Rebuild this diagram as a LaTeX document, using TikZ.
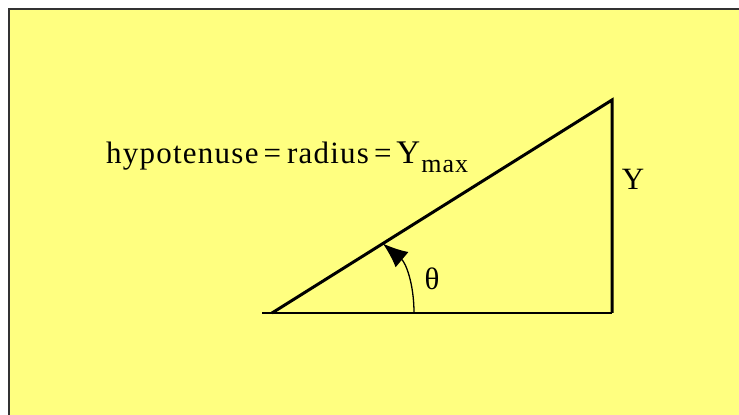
\documentclass[tikz,border=0pt]{standalone}
\usepackage{fontspec}
\setmainfont{Liberation Serif}
\usetikzlibrary{arrows.meta, calc}
\definecolor{paper}{HTML}{FFFF80}
\definecolor{rim}{HTML}{333333}

\begin{document}
\begin{tikzpicture}[x=1pt, y=1pt,
      lbl/.style={font=\fontsize{31}{31}\selectfont, inner sep=0pt},
      side/.style={line width=3pt, line join=miter}]
  \useasboundingbox (0,0) rectangle (739,415);
  \fill[paper] (9,0) rectangle (739,406);
  \draw[rim, line width=2.5pt] (9,0) -- (9,406) -- (739,406);
  % triangle corners
  \coordinate (A) at (272,102);
  \coordinate (B) at (612,102);
  \coordinate (C) at (612,315);
  \draw[side] (A) -- (C) -- (B);
  \draw[line width=2pt] ($(A)+(-10,0)$) -- (B);
  % angle arrow
  \coordinate (S) at (414,102);
  \coordinate (T) at ($(A)!0.326!(C)$);
  \draw[line width=1.3pt, -{Latex[length=25pt, width=20pt]}] (S) to[out=90, in=-40] (T);
  \node[lbl, anchor=base] (theta) at (432,125) {θ};
  \node[lbl, anchor=base] (y) at (633,225) {Y};
  \node[lbl, anchor=base west] (hyp) at (106,251)
    {\addfontfeatures{LetterSpace=4}hypotenuse\kern5pt=\kern6pt radius\kern5pt=\kern5pt{\fontsize{33}{33}\selectfont Y}\kern1pt\raisebox{-9pt}{\fontsize{26}{26}\selectfont max}};
\end{tikzpicture}
\end{document}
